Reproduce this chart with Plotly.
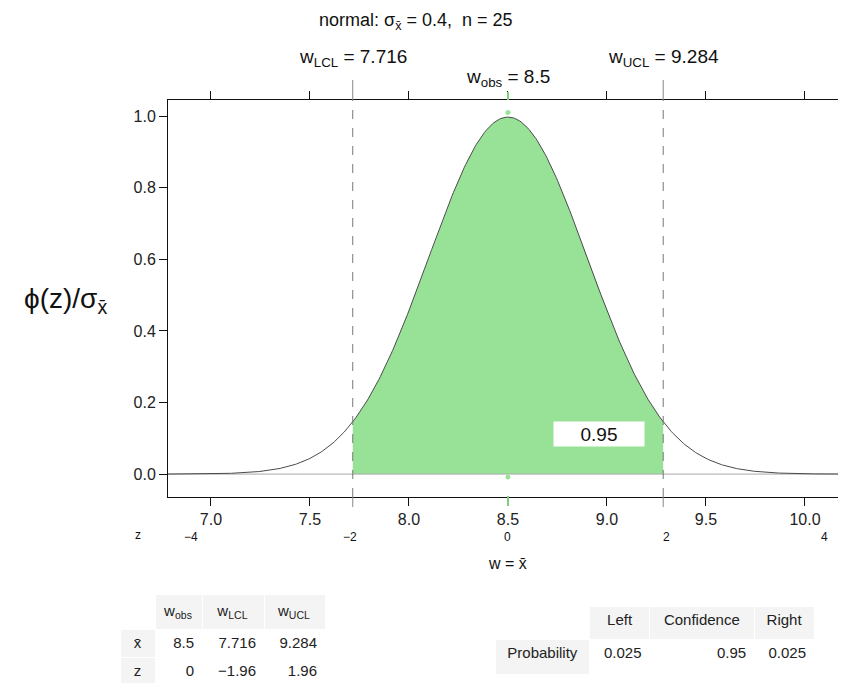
import numpy as np
import plotly.graph_objects as go

# parameters shown on the chart
mu = 8.5
sigma_xbar = 0.4
n = 25
w_obs = 8.5
w_lcl = 7.716
w_ucl = 9.284
confidence = 0.95

x_ticks = [7.0, 7.5, 8.0, 8.5, 9.0, 9.5, 10.0]
z_ticks = [-4, -2, 0, 2, 4]
y_ticks = [0.0, 0.2, 0.4, 0.6, 0.8, 1.0]

tbl1_header = ["", "w<sub>obs</sub>", "w<sub>LCL</sub>", "w<sub>UCL</sub>"]
tbl1_rows = ["x\u0304", "z"]
tbl1_xbar = ["8.5", "7.716", "9.284"]
tbl1_z = ["0", "\u22121.96", "1.96"]

tbl2_header = ["", "Left", "Confidence", "Right"]
tbl2_rows = ["Probability"]
tbl2_values = ["0.025", "0.95", "0.025"]

# the page body keeps its default 8px margin, so the figure is drawn 8px in
OFF = 8
W, H = 846 - OFF, 683 - OFF
FONT = "Liberation Sans, Arial, sans-serif"
GREEN = "#98E298"
GRAY_FILL = "#f4f4f4"


def px(x):
    return (x - OFF) / W


def py(y):
    return (H - (y - OFF)) / H


# density of w on the plotted range
w = np.linspace(6.783, 10.192, 500)
dens = np.exp(-0.5 * ((w - mu) / sigma_xbar) ** 2) / np.sqrt(2 * np.pi) / sigma_xbar
wf = np.linspace(w_lcl, w_ucl, 300)
df = np.exp(-0.5 * ((wf - mu) / sigma_xbar) ** 2) / np.sqrt(2 * np.pi) / sigma_xbar

fig = go.Figure()

# shaded confidence region
fig.add_trace(go.Scatter(
    x=np.concatenate([[w_lcl], wf, [w_ucl]]),
    y=np.concatenate([[0], df, [0]]),
    fill="toself", fillcolor=GREEN, line=dict(width=0), mode="lines",
    hoverinfo="skip",
))
# zero line
fig.add_trace(go.Scatter(
    x=[6.783, 10.192], y=[0, 0], mode="lines",
    line=dict(color="#aaaaaa", width=1), hoverinfo="skip",
))
# density curve
fig.add_trace(go.Scatter(
    x=w, y=dens, mode="lines", line=dict(color="#4a4a4a", width=1),
    hoverinfo="skip",
))
# observed markers
fig.add_trace(go.Scatter(
    x=[w_obs, w_obs], y=[1.01, -0.008], mode="markers",
    marker=dict(color=GREEN, size=5), hoverinfo="skip",
))

# tables
fig.add_trace(go.Table(
    domain=dict(x=[px(120), px(325)], y=[0, py(594)]),
    columnwidth=[35, 47, 62, 61],
    header=dict(
        values=tbl1_header,
        fill_color=["white", GRAY_FILL, GRAY_FILL, GRAY_FILL],
        line_color="white", align="center", height=30,
        font=dict(family=FONT, size=15, color="#222222"),
    ),
    cells=dict(
        values=[tbl1_rows] + [[a, b] for a, b in zip(tbl1_xbar, tbl1_z)],
        fill_color=[GRAY_FILL, "white", "white", "white"],
        line_color="white", align=["center", "right", "right", "right"], height=28,
        font=dict(family=FONT, size=15, color="#222222"),
    ),
))
fig.add_trace(go.Table(
    domain=dict(x=[px(495), px(815)], y=[0, py(606)]),
    columnwidth=[95, 60, 105, 60],
    header=dict(
        values=tbl2_header,
        fill_color=["white", GRAY_FILL, GRAY_FILL, GRAY_FILL],
        line_color="white", align="center", height=33,
        font=dict(family=FONT, size=15, color="#222222"),
    ),
    cells=dict(
        values=[tbl2_rows] + [[v] for v in tbl2_values],
        fill_color=[GRAY_FILL, "white", "white", "white"],
        line_color="white", align=["center", "right", "right", "right"], height=35,
        font=dict(family=FONT, size=15, color="#222222"),
    ),
))

shapes = []
for wv in (w_lcl, w_ucl):
    shapes.append(dict(type="line", xref="x", yref="paper", x0=wv, x1=wv,
                       y0=py(497), y1=py(100),
                       line=dict(color="#777777", width=1, dash="dash")))
    shapes.append(dict(type="line", xref="x", yref="paper", x0=wv, x1=wv,
                       y0=py(100), y1=py(80), line=dict(color="#888888", width=1)))
    shapes.append(dict(type="line", xref="x", yref="paper", x0=wv, x1=wv,
                       y0=py(497), y1=py(507), line=dict(color="#888888", width=1)))
# green ticks at observed value
shapes.append(dict(type="line", xref="x", yref="paper", x0=w_obs, x1=w_obs,
                   y0=py(100), y1=py(92), line=dict(color="#7ccf7c", width=2)))
shapes.append(dict(type="line", xref="x", yref="paper", x0=w_obs, x1=w_obs,
                   y0=py(496), y1=py(506), line=dict(color="#7ccf7c", width=2)))

annotations = [
    dict(text="normal: \u03c3<sub>x\u0304</sub> = 0.4,  n = %d" % n, x=px(416), y=1.0,
         yanchor="top", font=dict(size=18)),
    dict(text="w<sub>LCL</sub> = %.3f" % w_lcl, x=w_lcl, xref="x", y=py(58),
         font=dict(size=19)),
    dict(text="w<sub>UCL</sub> = %.3f" % w_ucl, x=w_ucl, xref="x", y=py(58),
         font=dict(size=19)),
    dict(text="w<sub>obs</sub> = %g" % w_obs, x=w_obs, xref="x", y=py(78),
         font=dict(size=19)),
    dict(text="\u03d5(z)/\u03c3<sub>x\u0304</sub>", x=px(65), y=py(300), font=dict(size=28)),
    dict(text="w = x\u0304", x=w_obs, xref="x", y=py(563), font=dict(size=16)),
    dict(text="z", x=px(138), y=py(535), font=dict(size=12)),
    dict(text="%.2f" % confidence, x=8.96, xref="x", y=0.112, yref="y",
         bgcolor="white", width=88, height=22, font=dict(size=19)),
]
for z in z_ticks:
    annotations.append(dict(text=str(z).replace("-", "\u2212"), x=mu + z * sigma_xbar,
                            xref="x", y=py(537), font=dict(size=12)))
for a in annotations:
    a.setdefault("xref", "paper")
    a.setdefault("yref", "paper")
    a.setdefault("xanchor", "center")
    a.setdefault("yanchor", "middle")
    a["showarrow"] = False
    a["font"].setdefault("color", "#111111")
    a["font"].setdefault("family", FONT)

fig.update_layout(
    width=W, height=H,
    margin=dict(l=0, r=0, t=0, b=0),
    paper_bgcolor="white", plot_bgcolor="white",
    showlegend=False,
    font=dict(family=FONT, size=15, color="#222222"),
    shapes=shapes,
    annotations=annotations,
    xaxis=dict(
        domain=[px(168), px(843)], range=[6.783, 10.192],
        tickvals=x_ticks, ticktext=["%.1f" % t for t in x_ticks],
        ticks="outside", ticklen=8, tickcolor="#111111",
        showline=True, linecolor="#111111", mirror="ticks",
        showgrid=False, zeroline=False,
        tickfont=dict(size=16, family=FONT, color="#222222"),
    ),
    yaxis=dict(
        domain=[py(497), py(100)], range=[-0.064, 1.045],
        tickvals=y_ticks, ticktext=["%.1f" % t for t in y_ticks],
        ticks="outside", ticklen=8, tickcolor="#111111",
        showline=True, linecolor="#111111", mirror=True,
        showgrid=False, zeroline=False,
        tickfont=dict(size=16, family=FONT, color="#222222"),
    ),
)

fig.write_html("out.html")
